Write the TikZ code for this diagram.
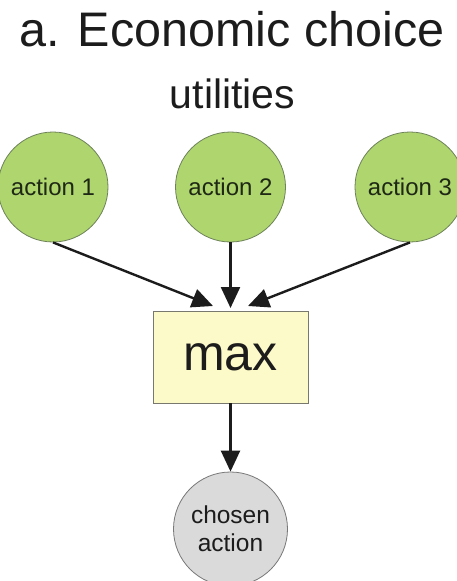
\documentclass[tikz,border=0pt]{standalone}
\usepackage{fontspec}
\setmainfont{Liberation Sans}
\usetikzlibrary{arrows.meta}
\definecolor{actgreen}{RGB}{174,213,110}
\definecolor{maxyellow}{RGB}{252,250,200}
\definecolor{chosengray}{RGB}{218,218,218}
\definecolor{txt}{RGB}{28,28,28}
\definecolor{acttxt}{RGB}{30,40,20}
\begin{document}
\begin{tikzpicture}[x=1pt,y=-1pt,
  actnode/.style={circle,draw={rgb,255:red,110;green,130;blue,90},line width=0.8pt,fill=actgreen,minimum size=110pt,inner sep=0pt,text=acttxt,font=\fontsize{24}{27}\selectfont},
  maxnode/.style={rectangle,draw={rgb,255:red,120;green,120;blue,110},line width=0.8pt,fill=maxyellow,minimum width=155pt,minimum height=92pt,inner sep=0pt,text=txt,font=\fontsize{50}{56}\selectfont},
  chosennode/.style={circle,draw={rgb,255:red,120;green,120;blue,120},line width=0.8pt,fill=chosengray,minimum size=114pt,inner sep=0pt,text=txt,align=center,font=\fontsize{24.5}{28}\selectfont},
  conn/.style={line width=2.4pt,draw=txt,-{Triangle[length=21pt,width=19pt]}},
  titletext/.style={text=txt,inner sep=0pt}
]
\useasboundingbox (0,0) rectangle (456,581);
\node[titletext,font=\fontsize{48.5}{54}\selectfont] (title) at (232,29) {a. Economic choice};
\node[titletext,font=\fontsize{41}{46}\selectfont] (util) at (232.5,94) {utilities};
\node[actnode] (a1) at (53,187) {action 1};
\node[actnode] (a2) at (230.5,187) {action 2};
\node[actnode] (a3) at (410,187) {action 3};
\node[maxnode] (max) at (230.5,357) {max};
\node[chosennode] (ch) at (230.5,529) {chosen\\action};
\coordinate (t1) at (213,306);
\coordinate (t2) at (230.5,308);
\coordinate (t3) at (248,306);
\draw[conn] (a1.south) -- (t1);
\draw[conn] (a2.south) -- (t2);
\draw[conn] (a3.south) -- (t3);
\draw[conn] (max.south) -- (ch.north);
\end{tikzpicture}
\end{document}
